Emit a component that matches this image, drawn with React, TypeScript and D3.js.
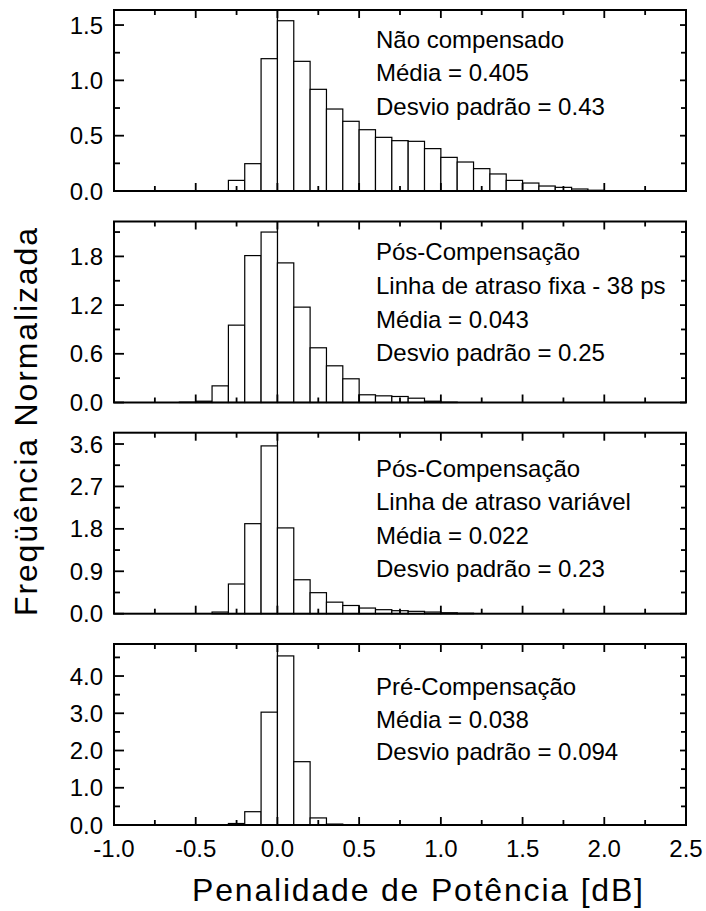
import React from "react";
import * as d3 from "d3";

// ---------- data ----------
const xTickValues = [-1.0, -0.5, 0.0, 0.5, 1.0, 1.5, 2.0, 2.5];
const xMinorValues = [-0.75, -0.25, 0.25, 0.75, 1.25, 1.75, 2.25];
const binWidth = 0.1;

// Panel 1: Não compensado
const naoBins = [-0.3, -0.2, -0.1, 0.0, 0.1, 0.2, 0.3, 0.4, 0.5, 0.6, 0.7, 0.8, 0.9, 1.0, 1.1, 1.2, 1.3, 1.4, 1.5, 1.6, 1.7, 1.8, 1.9];
const naoValues = [0.096, 0.247, 1.196, 1.539, 1.172, 0.919, 0.741, 0.63, 0.554, 0.485, 0.455, 0.449, 0.383, 0.304, 0.262, 0.202, 0.154, 0.096, 0.072, 0.045, 0.033, 0.018, 0.007];
const naoText = ["Não compensado", "Média = 0.405", "Desvio padrão = 0.43"];
const naoYTicks = [0.0, 0.5, 1.0, 1.5];

// Panel 2: Pós-Compensação fixa
const fixaBins = [-0.6, -0.5, -0.4, -0.3, -0.2, -0.1, 0.0, 0.1, 0.2, 0.3, 0.4, 0.5, 0.6, 0.7, 0.8, 0.9, 1.0];
const fixaValues = [0.004, 0.016, 0.205, 0.953, 1.81, 2.1, 1.72, 1.175, 0.674, 0.452, 0.292, 0.095, 0.082, 0.074, 0.053, 0.016, 0.004];
const fixaText = ["Pós-Compensação", "Linha de atraso fixa - 38 ps", "Média = 0.043", "Desvio padrão = 0.25"];
const fixaYTicks = [0.0, 0.6, 1.2, 1.8];

// Panel 3: Pós-Compensação variável
const varBins = [-0.4, -0.3, -0.2, -0.1, 0.0, 0.1, 0.2, 0.3, 0.4, 0.5, 0.6, 0.7, 0.8, 0.9, 1.0, 1.1];
const varValues = [0.035, 0.63, 1.91, 3.56, 1.82, 0.72, 0.446, 0.245, 0.174, 0.12, 0.085, 0.064, 0.05, 0.035, 0.02, 0.01];
const varText = ["Pós-Compensação", "Linha de atraso variável", "Média = 0.022", "Desvio padrão = 0.23"];
const varYTicks = [0.0, 0.9, 1.8, 2.7, 3.6];

// Panel 4: Pré-Compensação
const preBins = [-0.3, -0.2, -0.1, 0.0, 0.1, 0.2, 0.3];
const preValues = [0.04, 0.357, 3.03, 4.54, 1.7, 0.19, 0.025];
const preText = ["Pré-Compensação", "Média = 0.038", "Desvio padrão = 0.094"];
const preYTicks = [0.0, 1.0, 2.0, 3.0, 4.0];

const xAxisTitle = "Penalidade de Potência [dB]";
const yAxisTitle = "Freqüência Normalizada";

// ---------- layout ----------
const W = 706;
const H = 911;
const LEFT = 114;
const RIGHT = 686;
const PANEL_H = 181;
const FONT = "'Liberation Sans', Arial, Helvetica, sans-serif";

const panels = [
  { tops: 10, bins: naoBins, values: naoValues, text: naoText, yTicks: naoYTicks, yMax: 1.636, textOffset: 37.5, lineGap: 33.8 },
  { tops: 221.5, bins: fixaBins, values: fixaValues, text: fixaText, yTicks: fixaYTicks, yMax: 2.23, textOffset: 38.7, lineGap: 33.7 },
  { tops: 432.7, bins: varBins, values: varValues, text: varText, yTicks: varYTicks, yMax: 3.84, textOffset: 44, lineGap: 33.4 },
  { tops: 644, bins: preBins, values: preValues, text: preText, yTicks: preYTicks, yMax: 4.86, textOffset: 51, lineGap: 32.5 },
];

const x = d3.scaleLinear().domain([-1.0, 2.5]).range([LEFT, RIGHT]);
const fmt = (v: number) => d3.format(".1f")(v).replace("\u2212", "-");

function Panel({ p, last }: { p: any; last: boolean }) {
  const top = p.tops;
  const bottom = top + PANEL_H;
  const y = d3.scaleLinear().domain([0, p.yMax]).range([bottom, top]);
  const step = p.yTicks[1] - p.yTicks[0];
  const yMinor = p.yTicks.map((t: number) => t + step / 2).filter((t: number) => t < p.yMax);
  const tickStroke = 1.8;
  return (
    <g>
      <line x1={x(0)} x2={x(0)} y1={top} y2={bottom} stroke="#000" strokeWidth={1.3} />
      {p.bins.map((b: number, i: number) => (
        <rect
          key={i}
          x={x(b)}
          y={y(p.values[i])}
          width={x(b + binWidth) - x(b)}
          height={bottom - y(p.values[i])}
          fill="#fff"
          stroke="#000"
          strokeWidth={1.2}
        />
      ))}
      {xTickValues.map((t) => (
        <g key={"xt" + t}>
          <line x1={x(t)} x2={x(t)} y1={bottom} y2={bottom - 8} stroke="#000" strokeWidth={tickStroke} />
          <line x1={x(t)} x2={x(t)} y1={top} y2={top + 8} stroke="#000" strokeWidth={tickStroke} />
        </g>
      ))}
      {xMinorValues.map((t) => (
        <g key={"xm" + t}>
          <line x1={x(t)} x2={x(t)} y1={bottom} y2={bottom - 5} stroke="#000" strokeWidth={tickStroke} />
          <line x1={x(t)} x2={x(t)} y1={top} y2={top + 5} stroke="#000" strokeWidth={tickStroke} />
        </g>
      ))}
      {p.yTicks.map((t: number) => (
        <g key={"yt" + t}>
          <line x1={LEFT} x2={LEFT + 10} y1={y(t)} y2={y(t)} stroke="#000" strokeWidth={tickStroke} />
          <line x1={RIGHT} x2={RIGHT - 6} y1={y(t)} y2={y(t)} stroke="#000" strokeWidth={tickStroke} />
          <text x={103} y={y(t)} dy="0.36em" textAnchor="end" fontSize={24} fontFamily={FONT}>
            {fmt(t)}
          </text>
        </g>
      ))}
      {yMinor.map((t: number) => (
        <g key={"ym" + t}>
          <line x1={LEFT} x2={LEFT + 6} y1={y(t)} y2={y(t)} stroke="#000" strokeWidth={tickStroke} />
          <line x1={RIGHT} x2={RIGHT - 5} y1={y(t)} y2={y(t)} stroke="#000" strokeWidth={tickStroke} />
        </g>
      ))}
      <rect x={LEFT} y={top} width={RIGHT - LEFT} height={PANEL_H} fill="none" stroke="#000" strokeWidth={2} />
      {p.text.map((s: string, i: number) => (
        <text key={"a" + i} x={376} y={top + p.textOffset + i * p.lineGap} fontSize={24} fontFamily={FONT}>
          {s}
        </text>
      ))}
      {last &&
        xTickValues.map((t) => (
          <text key={"xl" + t} x={x(t)} y={bottom + 32} textAnchor="middle" fontSize={24} fontFamily={FONT}>
            {fmt(t)}
          </text>
        ))}
    </g>
  );
}

export default function App() {
  return (
    <svg
      width={W}
      height={H}
      viewBox={`0 0 ${W} ${H}`}
      style={{ position: "absolute", left: 0, top: 0, background: "#fff" }}
    >
      <rect x={0} y={0} width={W} height={H} fill="#fff" />
      {panels.map((p, i) => (
        <Panel key={i} p={p} last={i === panels.length - 1} />
      ))}
      <text x={192} y={901} fontSize={32} fontFamily={FONT} textLength={451} lengthAdjust="spacing">
        {xAxisTitle}
      </text>
      <text
        transform={`translate(37,616) rotate(-90)`}
        x={0}
        y={0}
        fontSize={32}
        fontFamily={FONT}
        textLength={388}
        lengthAdjust="spacing"
      >
        {yAxisTitle}
      </text>
    </svg>
  );
}
